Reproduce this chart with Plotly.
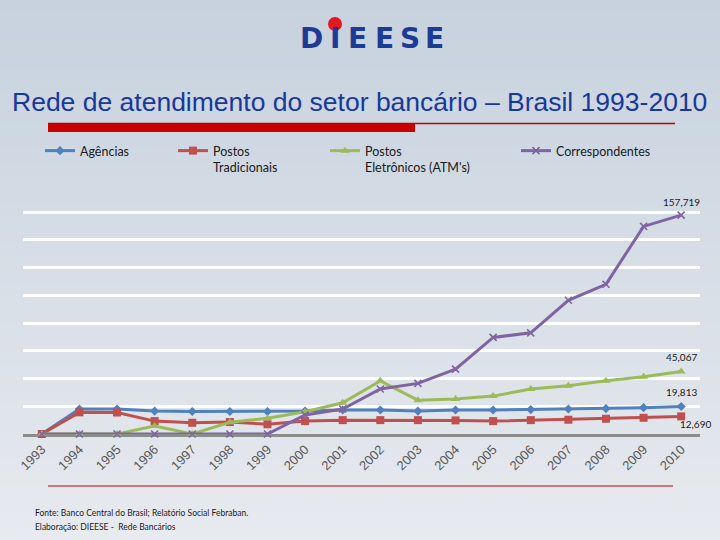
import plotly.graph_objects as go

years = list(range(1993, 2011))
agencias = [0, 18000, 18000, 16500, 16200, 16200, 16200, 16500, 17300, 17300,
            16500, 17300, 17300, 17600, 18000, 18300, 19000, 19813]
postos_trad = [0, 15600, 15500, 9300, 8100, 8600, 7000, 9300, 10000, 10000,
               10000, 9800, 9300, 10000, 10300, 11000, 11700, 12690]
postos_atm = [0, 0, 0, 5700, 0, 8400, 11300, 16000, 22500, 38300,
              24400, 25200, 27300, 32400, 34700, 38300, 41200, 45067]
correspondentes = [0, 0, 0, 0, 0, 0, 0, 13700, 18000, 32400,
                   36500, 46800, 69600, 72900, 96400, 107900, 149600, 157719]

series_names = ["Agências", "Postos<br>Tradicionais", "Postos<br>Eletrônicos (ATM's)", "Correspondentes"]
series_values = [agencias, postos_trad, postos_atm, correspondentes]
colors = ["#4f81bd", "#c0504d", "#9bbb59", "#8064a2"]
symbols = ["diamond", "square", "triangle-up", "x-thin"]
msizes = [7, 8, 8, 7]

W, H = 720, 540
L, R, T, B = 23, 20, 209, 106
PW, PH = W - L - R, H - T - B
Y_TOP = 160000 * PH / 222.0   # keeps 160,000 at the same height as in the reference

def px2x(px):
    return (px - L) / PW

def py2y(py):
    return (H - B - py) / PH

fig = go.Figure()

legend_lefts = [40, 173, 325, 516]
for i, (name, vals) in enumerate(zip(series_names, series_values)):
    mk = dict(symbol=symbols[i], size=msizes[i], color=colors[i])
    if symbols[i] == "x-thin":
        mk["line"] = dict(width=1.6, color=colors[i])
    fig.add_trace(go.Scatter(
        x=years, y=vals, name=name, mode="lines+markers",
        line=dict(color=colors[i], width=3), marker=mk,
        cliponaxis=False,
        legend="legend" if i == 0 else f"legend{i+1}",
    ))

# data labels on last points
label_offsets = [(0, 14.5), (14, -8), (0, 14), (0, 13)]
for i, vals in enumerate(series_values):
    xs, ys = label_offsets[i]
    fig.add_annotation(x=years[-1], y=vals[-1], text=f"{vals[-1]:,}",
                       showarrow=False, xshift=xs, yshift=ys,
                       xanchor="center", yanchor="middle",
                       font=dict(family="Lato", size=10, color="#1a1a1a"))

# background gradient
shapes = []
n = 40
top = (199, 210, 222)
bot = (231, 234, 239)
for k in range(n):
    t = k / (n - 1)
    c = tuple(round(top[j] + (bot[j] - top[j]) * t) for j in range(3))
    y0 = k * H / n
    y1 = (k + 1) * H / n + 1
    shapes.append(dict(type="rect", xref="paper", yref="paper",
                       x0=px2x(-2), x1=px2x(W + 2), y0=py2y(y1), y1=py2y(y0),
                       fillcolor=f"rgb{c}", line=dict(width=0), layer="below"))

# header red lines
shapes.append(dict(type="line", xref="paper", yref="paper",
                   x0=px2x(48), x1=px2x(675), y0=py2y(123.5), y1=py2y(123.5),
                   line=dict(color="#c00000", width=1.3), layer="above"))
shapes.append(dict(type="rect", xref="paper", yref="paper",
                   x0=px2x(48), x1=px2x(415), y0=py2y(132), y1=py2y(124),
                   fillcolor="#c80000", line=dict(width=0), layer="above"))
shapes.append(dict(type="line", xref="paper", yref="paper",
                   x0=px2x(48), x1=px2x(673), y0=py2y(486), y1=py2y(486),
                   line=dict(color="#c00000", width=1.2), layer="above"))
# logo red dot
shapes.append(dict(type="circle", xref="paper", yref="paper",
                   x0=px2x(328), x1=px2x(342), y0=py2y(31), y1=py2y(17),
                   fillcolor="#e0191e", line=dict(width=0), layer="above"))
fig.update_layout(shapes=shapes)

# logo letters
logo_letters = ["D", "I", "E", "E", "S", "E"]
logo_x = [311, 335, 357, 384, 410, 434]
for ch, lx in zip(logo_letters, logo_x):
    fig.add_annotation(xref="paper", yref="paper", x=px2x(lx), y=py2y(38),
                       xanchor="center", yanchor="middle",
                       text=f"<b>{ch}</b>", showarrow=False,
                       font=dict(family="DejaVu Sans", size=28, color="#1c3b97"))

# title
fig.add_annotation(xref="paper", yref="paper", x=px2x(359), y=py2y(102),
                   xanchor="center", yanchor="middle",
                   text="Rede de atendimento do setor bancário – Brasil 1993-2010",
                   showarrow=False,
                   font=dict(family="Liberation Sans", size=26.5, color="#17399a"))

# footer
footer_lines = ["Fonte: Banco Central do Brasil; Relatório Social Febraban.",
                "Elaboração: DIEESE -  Rede Bancários"]
for k, txt in enumerate(footer_lines):
    fig.add_annotation(xref="paper", yref="paper", x=px2x(33), y=py2y(513 + 14 * k),
                       xanchor="left", yanchor="middle", align="left",
                       text=txt, showarrow=False,
                       font=dict(family="Lato", size=8.5, color="#1a1a1a"))

legend_common = dict(orientation="v", xanchor="left", yanchor="top",
                     xref="container", yref="container",
                     bgcolor="rgba(0,0,0,0)", borderwidth=0, valign="top",
                     font=dict(family="Lato", size=12.5, color="#1a1a1a"))
lg = {}
for i, lx in enumerate(legend_lefts):
    key = "legend" if i == 0 else f"legend{i+1}"
    lg[key] = dict(x=lx / W, y=1 - 136 / H, **legend_common)

fig.update_layout(
    width=W, height=H,
    margin=dict(l=L, r=R, t=T, b=B, autoexpand=False),
    paper_bgcolor="#d8dfe7",
    plot_bgcolor="rgba(0,0,0,0)",
    showlegend=True,
    **lg,
    xaxis=dict(range=[1992.5, 2010.5], tickvals=years, ticktext=[str(y) for y in years],
               tickangle=-45, showgrid=False, zeroline=False, automargin=False,
               showline=True, linecolor="#8c8c8c", linewidth=2.5, layer="below traces",
               tickfont=dict(family="Liberation Sans", size=13, color="#595959"),
               ticks=""),
    yaxis=dict(range=[0, Y_TOP], tick0=0, dtick=20000, showgrid=True, gridcolor="#ffffff",
               gridwidth=2.5, zeroline=False, showticklabels=False, ticks="",
               automargin=False),
)

fig.write_html("out.html", config={"displayModeBar": False},
               post_script="document.body.style.margin='0px';")
